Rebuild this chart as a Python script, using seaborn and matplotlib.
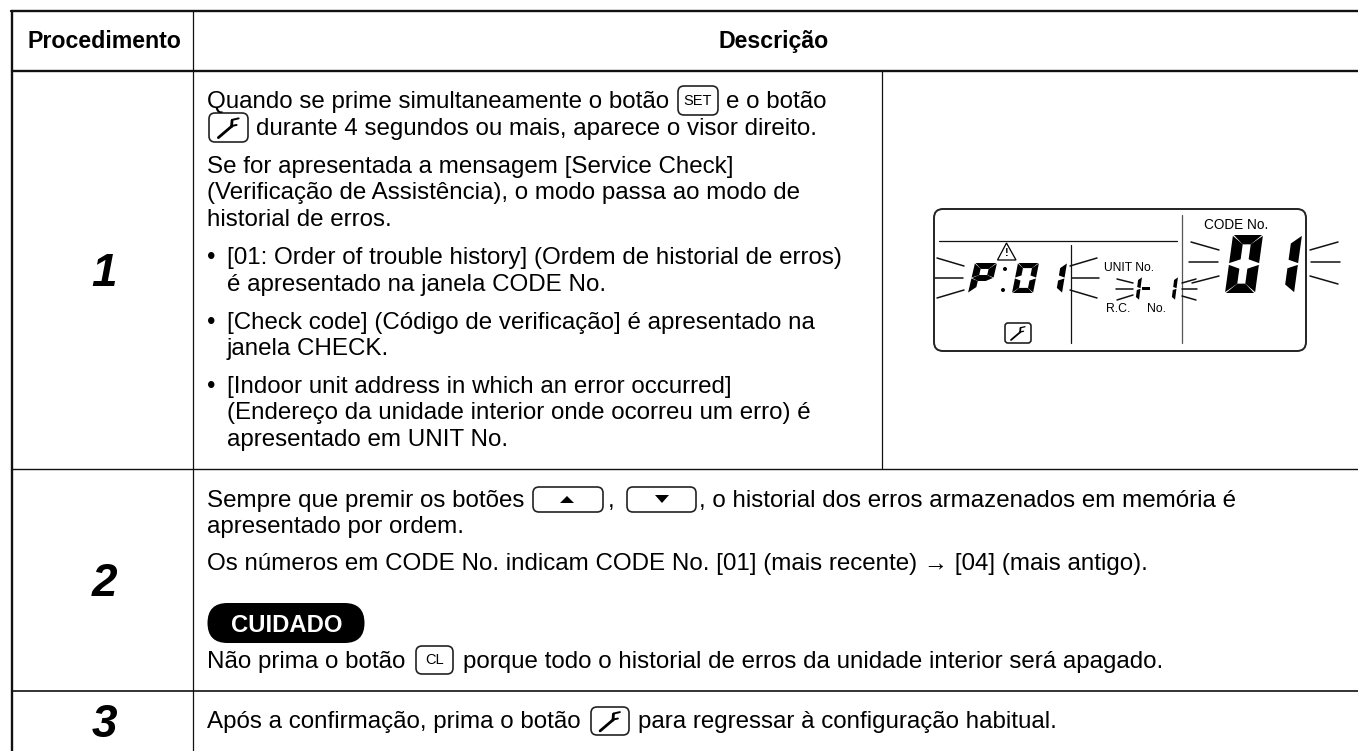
import matplotlib
matplotlib.use('Agg')
import matplotlib.pyplot as plt
import seaborn as sns
from matplotlib.patches import FancyBboxPatch, Polygon, Circle

# Table text
header_cols = ['Procedimento', 'Descrição']
step_labels = ['1', '2', '3']
row1_lines = [
    'Quando se prime simultaneamente o botão',
    'e o botão',
    'durante 4 segundos ou mais, aparece o visor direito.',
    'Se for apresentada a mensagem [Service Check]',
    '(Verificação de Assistência), o modo passa ao modo de',
    'historial de erros.',
    '[01: Order of trouble history] (Ordem de historial de erros)',
    'é apresentado na janela CODE No.',
    '[Check code] (Código de verificação] é apresentado na',
    'janela CHECK.',
    '[Indoor unit address in which an error occurred]',
    '(Endereço da unidade interior onde ocorreu um erro) é',
    'apresentado em UNIT No.',
]
row1_x = [207, 726, 256, 207, 207, 207, 227, 227, 227, 227, 227, 227, 227]
row1_y = [108, 108, 134.5, 172.5, 199, 225.5, 264, 290.5, 329, 355.5, 393, 419.5, 446]
bullet_y = [264, 329, 393]
row2_lines = [
    'Sempre que premir os botões',
    ',',
    ', o historial dos erros armazenados em memória é',
    'apresentado por ordem.',
    'Os números em CODE No. indicam CODE No. [01] (mais recente) → [04] (mais antigo).',
    'Não prima o botão',
    'porque todo o historial de erros da unidade interior será apagado.',
]
row2_x = [207, 608, 699, 207, 207, 207, 463]
row2_y = [507, 507, 507, 533, 570, 668, 668]
row3_lines = ['Após a confirmação, prima o botão', 'para regressar à configuração habitual.']
row3_x = [207, 638]

sns.set_theme(style='white')
plt.rcParams['font.family'] = ['Liberation Sans', 'DejaVu Sans']
plt.rcParams['text.color'] = 'black'

fig = plt.figure(figsize=(13.58, 7.51), dpi=100)
ax = fig.add_axes([0, 0, 1, 1])
ax.set_xlim(0, 1358)
ax.set_ylim(751, 0)
ax.axis('off')

FS = 17.4

# Seven segment shapes, one entry per lit segment
DIGIT_SEGS = {'0': 'abcdef', '1': 'bc', 'P': 'abefg'}


def rule(x0, y0, x1, y1, lw=1.1, color='#111111'):
    sns.lineplot(x=[x0, x1], y=[y0, y1], ax=ax, color=color, lw=lw,
                 sort=False, estimator=None, legend=False)


def rays(segs, lw=1.1):
    for x0, y0, x1, y1 in segs:
        rule(x0, y0, x1, y1, lw=lw, color='#111111')


def button(x0, y0, x1, y1, label=None, r=6):
    ax.add_patch(FancyBboxPatch((x0 + r, y0 + r), x1 - x0 - 2 * r, y1 - y0 - 2 * r,
                                boxstyle=f'round,pad={r},rounding_size={r}',
                                fc='white', ec='#222222', lw=1.2))
    if label:
        ax.text((x0 + x1) / 2, (y0 + y1) / 2 + 0.5, label, fontsize=10.5,
                ha='center', va='center')


def wrench(cx, cy, s, lw=2.0):
    # handle, then the hooked head
    rule(cx - s, cy + s, cx + s * 0.35, cy - s * 0.15, lw=lw, color='black')
    rule(cx + s * 0.3, cy - s * 0.1, cx + s * 0.35, cy - s * 0.7, lw=lw, color='black')
    rule(cx + s * 0.35, cy - s * 0.75, cx + s, cy - s * 0.9, lw=lw * 0.7, color='black')
    rule(cx + s * 0.3, cy - s * 0.15, cx + s * 0.8, cy - s * 0.25, lw=lw * 0.7, color='black')


def wrench_button(x0, y0, x1, y1, lw=2.0):
    button(x0, y0, x1, y1)
    wrench((x0 + x1) / 2, (y0 + y1) / 2, (x1 - x0) * 0.26, lw=lw)


def seg_digit(ch, x0, ytop, ybot, w, skew, t):
    # x0 is the lower left corner, t the stroke width in pixels
    h = ybot - ytop
    tu = t / w
    tv = t / h * 0.85
    gap_u = 0.03
    gap_v = 0.015
    polys = {
        'a': [(gap_u, 1), (1 - gap_u, 1), (1 - tu, 1 - tv), (tu, 1 - tv)],
        'd': [(gap_u, 0), (1 - gap_u, 0), (1 - tu, tv), (tu, tv)],
        'f': [(0, 1 - gap_v), (tu, 1 - tv), (tu, 0.5 + tv / 2), (0, 0.5 + gap_v)],
        'e': [(0, gap_v), (tu, tv), (tu, 0.5 - tv / 2), (0, 0.5 - gap_v)],
        'b': [(1, 1 - gap_v), (1 - tu, 1 - tv), (1 - tu, 0.5 + tv / 2), (1, 0.5 + gap_v)],
        'c': [(1, gap_v), (1 - tu, tv), (1 - tu, 0.5 - tv / 2), (1, 0.5 - gap_v)],
        'g': [(gap_u, 0.5), (tu, 0.5 + tv / 2), (1 - tu, 0.5 + tv / 2), (1 - gap_u, 0.5),
              (1 - tu, 0.5 - tv / 2), (tu, 0.5 - tv / 2)],
    }
    for seg in DIGIT_SEGS[ch]:
        pts = [(x0 + u * w + v * skew, ybot - v * h) for u, v in polys[seg]]
        ax.add_patch(Polygon(pts, fc='black', ec='none'))


# Table rules
rule(11, 11, 1358, 11, lw=1.7)
rule(12, 70.5, 1358, 70.5, lw=1.7)
rule(12, 468.5, 1358, 468.5, lw=1.0)
rule(12, 691, 1358, 691, lw=1.2)
rule(12, 11, 12, 751, lw=1.7)
rule(193, 11, 193, 751, lw=0.9)
rule(882, 70, 882, 468, lw=0.9)

# Header
ax.text(104, 48, header_cols[0], fontsize=16.7, fontweight='bold', ha='center', va='baseline')
ax.text(774, 48, header_cols[1], fontsize=16.7, fontweight='bold', ha='center', va='baseline')

# Step numbers
for lab, y in zip(step_labels, [286, 596, 737]):
    ax.text(104, y, lab, fontsize=33, fontweight='bold', style='italic', ha='center', va='baseline')

# Row 1
for txt, x, y in zip(row1_lines, row1_x, row1_y):
    ax.text(x, y, txt, fontsize=FS, ha='left', va='baseline')
for y in bullet_y:
    ax.text(207, y, '•', fontsize=FS, ha='left', va='baseline')
button(678, 86, 718, 115, 'SET')
wrench_button(209, 113, 248, 142)

# Row 2
for txt, x, y in zip(row2_lines, row2_x, row2_y):
    ax.text(x, y, txt, fontsize=FS, ha='left', va='baseline')
button(533, 487, 603, 512)
ax.add_patch(Polygon([[560, 503], [574, 503], [567, 496]], fc='black', ec='none'))
button(627, 487, 696, 512)
ax.add_patch(Polygon([[655, 495], [669, 495], [662, 503]], fc='black', ec='none'))
ax.add_patch(FancyBboxPatch((227.5, 623), 117, 0.01, boxstyle='round,pad=20,rounding_size=20',
                            fc='black', ec='none'))
ax.text(287, 632, 'CUIDADO', fontsize=17.2, fontweight='bold', color='white', ha='center', va='baseline')
button(416, 646, 453, 674, 'CL')

# Row 3
ax.text(row3_x[0], 728, row3_lines[0], fontsize=FS, va='baseline')
wrench_button(591, 707, 629, 735)
ax.text(row3_x[1], 728, row3_lines[1], fontsize=FS, va='baseline')

# LCD panel
ax.add_patch(FancyBboxPatch((934, 209), 372, 142, boxstyle='round,pad=0,rounding_size=9',
                            fc='white', ec='#222222', lw=1.4))
rule(939, 241, 1177, 241, lw=0.9)
rule(1071, 245, 1071, 343, lw=0.9)
rule(1182, 215, 1182, 343, lw=0.9, color='#555555')
ax.text(1236, 225, 'CODE No.', fontsize=9.8, ha='center', va='center')
ax.text(1129, 268, 'UNIT No.', fontsize=8.7, ha='center', va='center')
ax.text(1118, 309, 'R.C.', fontsize=8.8, ha='center', va='center')
ax.text(1156, 309, 'No.', fontsize=8.8, ha='center', va='center')

# warning triangle
ax.add_patch(Polygon([[1006.5, 243], [997.5, 260], [1016, 260]], fc='white', ec='black', lw=0.9))
ax.text(1006.5, 253.5, '!', fontsize=8, fontweight='bold', ha='center', va='center')

# LCD digits
seg_digit('P', 968, 263, 293, 22, 7, 7)
ax.add_patch(Circle((1005, 269), 2, fc='black', ec='none'))
ax.add_patch(Circle((1003, 290), 2, fc='black', ec='none'))
seg_digit('0', 1012, 263, 293, 21, 6, 6)
seg_digit('1', 1048, 263, 293, 14, 5, 6)
seg_digit('0', 1225, 235, 293, 30, 8, 11)
seg_digit('1', 1275, 235, 293, 19, 8, 10)
seg_digit('1', 1166, 277, 300, 9, 3, 3.5)
seg_digit('1', 1130, 277, 300, 9, 3, 3.5)
ax.add_patch(Polygon([[1142, 287], [1150, 287], [1150, 290], [1142, 290]], fc='black', ec='none'))

rays([(937, 258, 964, 266), (935, 278, 963, 278), (937, 298, 964, 290),
      (1070, 266, 1097, 258), (1072, 278, 1099, 278), (1070, 290, 1097, 298),
      (1117, 279, 1133, 283), (1116, 289, 1133, 289), (1117, 300, 1133, 295),
      (1182, 283, 1196, 279), (1182, 289, 1197, 289), (1182, 296, 1196, 300),
      (1191, 242, 1219, 250), (1189, 262, 1218, 262), (1192, 283, 1219, 276),
      (1310, 250, 1338, 242), (1311, 262, 1340, 262), (1310, 276, 1338, 284)])

# wrench icon on the LCD
button(1005, 323, 1031, 343, r=3)
wrench(1018, 333, 7, lw=1.3)

fig.savefig('out.png', dpi=100)
